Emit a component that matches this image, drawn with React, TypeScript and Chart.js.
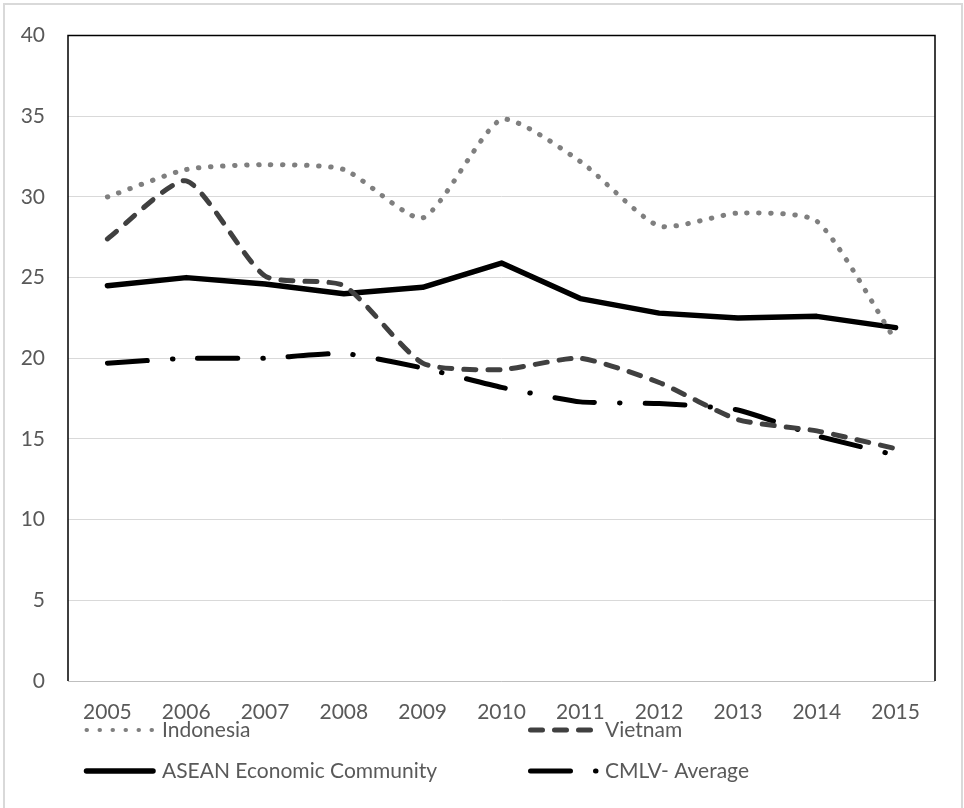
import { useEffect, useRef } from "react";
import { Chart, registerables } from "chart.js";

Chart.register(...registerables);

// Years on the category axis
const years = ["2005", "2006", "2007", "2008", "2009", "2010", "2011", "2012", "2013", "2014", "2015"];

// Series values (percent)
const indonesia = [30.0, 31.7, 32.0, 31.7, 28.7, 34.8, 32.2, 28.2, 29.0, 28.5, 21.1];
const vietnam = [27.4, 31.0, 25.1, 24.5, 19.7, 19.3, 20.0, 18.5, 16.2, 15.5, 14.4];
const aseanCommunity = [24.5, 25.0, 24.6, 24.0, 24.4, 25.9, 23.7, 22.8, 22.5, 22.6, 21.9];
const cmlvAverage = [19.7, 20.0, 20.0, 20.3, 19.4, 18.2, 17.3, 17.2, 16.8, 15.2, 14.0];

const seriesNames = ["Indonesia", "Vietnam", "ASEAN Economic Community", "CMLV- Average"];

const Y_MIN = 0;
const Y_MAX = 40;
const Y_STEP = 5;

const FONT = "Lato, 'Open Sans', sans-serif";
const TEXT_COLOR = "#595959";

// Draws the outer frame, the black plot-area box and the two-column legend
const decorations = {
  id: "decorations",
  beforeDatasetsDraw(chart: any) {
    const { ctx, chartArea } = chart;
    const { left, top, right, bottom } = chartArea;
    ctx.save();
    // bottom axis line
    ctx.strokeStyle = "#bfbfbf";
    ctx.lineWidth = 1;
    ctx.beginPath();
    ctx.moveTo(left, Math.round(bottom) + 0.5);
    ctx.lineTo(right, Math.round(bottom) + 0.5);
    ctx.stroke();
    // left / top / right box
    ctx.strokeStyle = "#000000";
    ctx.lineWidth = 1.5;
    ctx.beginPath();
    ctx.moveTo(left, bottom);
    ctx.lineTo(left, top);
    ctx.lineTo(right, top);
    ctx.lineTo(right, bottom);
    ctx.stroke();
    ctx.restore();
  },
  afterDraw(chart: any) {
    const { ctx } = chart;
    ctx.save();
    // outer frame
    ctx.strokeStyle = "#d9d9d9";
    ctx.lineWidth = 2;
    ctx.beginPath();
    ctx.moveTo(4, chart.height);
    ctx.lineTo(4, 4);
    ctx.lineTo(962, 4);
    ctx.lineTo(962, chart.height);
    ctx.stroke();

    // legend
    const cols = [
      { x0: 86.5, x1: 153, tx: 162 },
      { x0: 530.5, x1: 596, tx: 605 },
    ];
    const rows = [730, 771];
    chart.data.datasets.forEach((ds: any, i: number) => {
      const c = cols[i % 2];
      const y = rows[Math.floor(i / 2)];
      ctx.save();
      ctx.strokeStyle = ds.borderColor;
      ctx.lineWidth = ds.legendWidth || ds.borderWidth;
      ctx.lineCap = "round";
      ctx.setLineDash(ds.legendDash || ds.borderDash || []);
      ctx.beginPath();
      ctx.moveTo(c.x0, y);
      ctx.lineTo(c.x1, y);
      ctx.stroke();
      ctx.restore();
      ctx.fillStyle = TEXT_COLOR;
      ctx.font = `21px ${FONT}`;
      ctx.textAlign = "left";
      ctx.textBaseline = "middle";
      ctx.fillText(ds.label, c.tx, y);
    });
    ctx.restore();
  },
};

export default function App() {
  const canvasRef = useRef<HTMLCanvasElement | null>(null);

  useEffect(() => {
    document.body.style.margin = "0";
    const canvas = canvasRef.current;
    if (!canvas) return;
    const chart = new Chart(canvas, {
      type: "line",
      data: {
        labels: years,
        datasets: [
          {
            label: seriesNames[0],
            data: indonesia,
            borderColor: "#7f7f7f",
            borderWidth: 5,
            borderDash: [0.5, 11.5],
            legendDash: [0.5, 12.5],
            legendWidth: 4,
            borderCapStyle: "round",
            borderJoinStyle: "round",
            tension: 0.2,
            pointRadius: 0,
            fill: false,
          } as any,
          {
            label: seriesNames[1],
            data: vietnam,
            borderColor: "#404040",
            borderWidth: 5,
            borderDash: [12, 12],
            borderCapStyle: "round",
            borderJoinStyle: "round",
            tension: 0.2,
            pointRadius: 0,
            fill: false,
          } as any,
          {
            label: seriesNames[2],
            data: aseanCommunity,
            borderColor: "#000000",
            borderWidth: 5.5,
            borderCapStyle: "round",
            borderJoinStyle: "round",
            tension: 0,
            pointRadius: 0,
            fill: false,
          } as any,
          {
            label: seriesNames[3],
            data: cmlvAverage,
            borderColor: "#000000",
            borderWidth: 5,
            borderDash: [40, 25, 0.5, 25],
            borderCapStyle: "round",
            borderJoinStyle: "round",
            tension: 0.15,
            pointRadius: 0,
            fill: false,
          } as any,
        ],
      },
      options: {
        animation: false,
        responsive: false,
        maintainAspectRatio: false,
        layout: { padding: { left: 0, top: 34, right: 29, bottom: 0 } },
        plugins: {
          legend: { display: false },
          tooltip: { enabled: false },
        },
        scales: {
          x: {
            offset: true,
            grid: { display: false, drawTicks: false, offset: true },
            border: { display: false },
            ticks: {
              color: TEXT_COLOR,
              font: { family: FONT, size: 21 },
              padding: 19,
              maxRotation: 0,
              autoSkip: false,
            },
            afterFit: (s: any) => {
              s.height = 127;
            },
          },
          y: {
            min: Y_MIN,
            max: Y_MAX,
            grid: { color: "#d9d9d9", lineWidth: 1, drawTicks: false },
            border: { display: false },
            ticks: {
              stepSize: Y_STEP,
              color: TEXT_COLOR,
              font: { family: FONT, size: 21 },
              padding: 23,
            },
            afterFit: (s: any) => {
              s.width = 68;
            },
          },
        },
      },
      plugins: [decorations],
    });
    return () => chart.destroy();
  }, []);

  return (
    <div style={{ position: "absolute", left: 0, top: 0, width: 964, height: 808, background: "#ffffff" }}>
      <canvas ref={canvasRef} width={964} height={808} />
    </div>
  );
}
